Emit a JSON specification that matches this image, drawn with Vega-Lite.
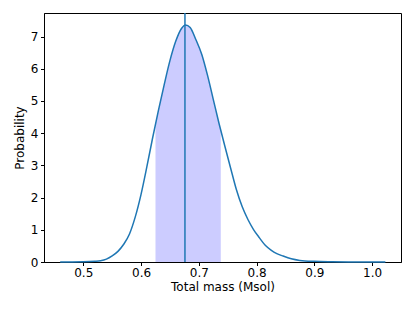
{
  "$schema": "https://vega.github.io/schema/vega-lite/v6.json",
  "width": 357,
  "height": 249,
  "autosize": {"type": "none"},
  "padding": {"left": 44, "top": 13, "right": 14, "bottom": 49},
  "background": "white",
  "config": {
    "view": {"stroke": "black", "strokeWidth": 1},
    "font": "DejaVu Sans",
    "axis": {
      "grid": false,
      "domainColor": "black",
      "tickColor": "black",
      "tickSize": 3.5,
      "labelFontSize": 12,
      "titleFontSize": 12,
      "labelColor": "black",
      "titleColor": "black",
      "titleFontWeight": "normal",
      "labelFont": "DejaVu Sans",
      "titleFont": "DejaVu Sans",
      "labelOverlap": false
    }
  },
  "datasets": {
    "curve": [
      {"x": 0.460, "y": 0.000},
      {"x": 0.480, "y": 0.001},
      {"x": 0.500, "y": 0.004},
      {"x": 0.520, "y": 0.020},
      {"x": 0.530, "y": 0.040},
      {"x": 0.540, "y": 0.090},
      {"x": 0.550, "y": 0.190},
      {"x": 0.560, "y": 0.330},
      {"x": 0.570, "y": 0.550},
      {"x": 0.580, "y": 0.870},
      {"x": 0.590, "y": 1.400},
      {"x": 0.600, "y": 2.100},
      {"x": 0.610, "y": 2.950},
      {"x": 0.620, "y": 3.850},
      {"x": 0.630, "y": 4.700},
      {"x": 0.640, "y": 5.500},
      {"x": 0.650, "y": 6.250},
      {"x": 0.660, "y": 6.850},
      {"x": 0.670, "y": 7.250},
      {"x": 0.677, "y": 7.360},
      {"x": 0.685, "y": 7.280},
      {"x": 0.695, "y": 6.900},
      {"x": 0.705, "y": 6.450},
      {"x": 0.715, "y": 5.800},
      {"x": 0.725, "y": 5.050},
      {"x": 0.735, "y": 4.300},
      {"x": 0.745, "y": 3.600},
      {"x": 0.755, "y": 2.920},
      {"x": 0.765, "y": 2.250},
      {"x": 0.775, "y": 1.720},
      {"x": 0.785, "y": 1.320},
      {"x": 0.795, "y": 1.000},
      {"x": 0.805, "y": 0.750},
      {"x": 0.815, "y": 0.520},
      {"x": 0.825, "y": 0.370},
      {"x": 0.835, "y": 0.260},
      {"x": 0.845, "y": 0.190},
      {"x": 0.860, "y": 0.100},
      {"x": 0.875, "y": 0.050},
      {"x": 0.900, "y": 0.020},
      {"x": 0.930, "y": 0.008},
      {"x": 0.960, "y": 0.003},
      {"x": 1.000, "y": 0.001},
      {"x": 1.023, "y": 0.000}
    ],
    "band": [
      {"x": 0.625, "y": 4.270},
      {"x": 0.630, "y": 4.700},
      {"x": 0.640, "y": 5.500},
      {"x": 0.650, "y": 6.250},
      {"x": 0.660, "y": 6.850},
      {"x": 0.670, "y": 7.250},
      {"x": 0.677, "y": 7.360},
      {"x": 0.685, "y": 7.280},
      {"x": 0.695, "y": 6.900},
      {"x": 0.705, "y": 6.450},
      {"x": 0.715, "y": 5.800},
      {"x": 0.725, "y": 5.050},
      {"x": 0.735, "y": 4.300},
      {"x": 0.738, "y": 4.090}
    ],
    "marker": [{"x": 0.676}]
  },
  "layer": [
    {
      "data": {"name": "band"},
      "mark": {"type": "area", "color": "#ccccff", "opacity": 1, "interpolate": "monotone"},
      "encoding": {
        "x": {"field": "x", "type": "quantitative", "scale": {"domain": [0.432, 1.05], "nice": false, "zero": false},
          "axis": {"title": "Total mass (Msol)", "values": [0.5, 0.6, 0.7, 0.8, 0.9, 1.0], "format": ".1f", "labelPadding": 2, "titlePadding": 3, "labelOverlap": false}},
        "y": {"field": "y", "type": "quantitative", "scale": {"domain": [0, 7.73], "nice": false},
          "axis": {"title": "Probability", "values": [0, 1, 2, 3, 4, 5, 6, 7], "tickCount": 8, "format": "d", "labelPadding": 2.5, "titlePadding": 4, "labelOverlap": false}}
      }
    },
    {
      "data": {"name": "curve"},
      "mark": {"type": "line", "color": "#1f77b4", "strokeWidth": 1.5, "interpolate": "monotone"},
      "encoding": {
        "x": {"field": "x", "type": "quantitative"},
        "y": {"field": "y", "type": "quantitative"}
      }
    },
    {
      "data": {"name": "marker"},
      "mark": {"type": "rule", "color": "#1f77b4", "strokeWidth": 1.5},
      "encoding": {
        "x": {"field": "x", "type": "quantitative"}
      }
    }
  ]
}
